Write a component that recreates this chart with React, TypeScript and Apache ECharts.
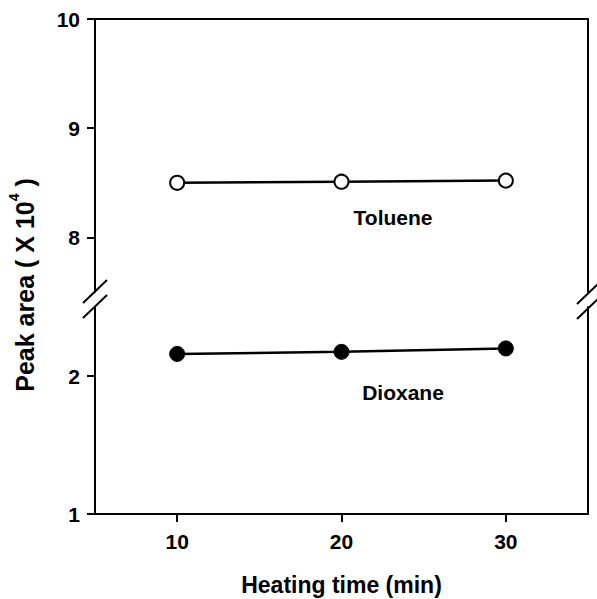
import React, { useEffect, useRef } from "react";
import * as echarts from "echarts";

const heatingTime = [10, 20, 30];
const toluene = [8.5, 8.51, 8.52];
const dioxane = [2.16, 2.175, 2.2];
const xTickValues = [10, 20, 30];
const upperTicks = [8, 9, 10];
const lowerTicks = [1, 2];

const FONT = "Liberation Sans, Arial, sans-serif";
const BLACK = "#000";

export default function App() {
  const ref = useRef<HTMLDivElement>(null);
  useEffect(() => {
    if (!ref.current) return;
    const chart = echarts.init(ref.current, undefined, { renderer: "svg" });
    const lineStyle = { color: BLACK, width: 2 };
    const label = { color: BLACK, fontFamily: FONT, fontWeight: "bold" as const, fontSize: 21 };
    const option: any = {
      animation: false,
      backgroundColor: "#fff",
      grid: [
        { left: 95, right: 9, top: 19, height: 273 },
        { left: 95, right: 9, top: 307, height: 207 },
      ],
      xAxis: [
        {
          gridIndex: 0, type: "value", min: 5, max: 35, position: "top",
          axisLine: { onZero: false, lineStyle },
          axisTick: { show: false }, axisLabel: { show: false }, splitLine: { show: false },
        },
        {
          gridIndex: 1, type: "value", min: 5, max: 35, position: "bottom",
          axisLine: { onZero: false, lineStyle },
          axisTick: { customValues: xTickValues, length: 8, lineStyle },
          axisLabel: { ...label, customValues: xTickValues, margin: 17 },
          splitLine: { show: false },
          name: "Heating time (min)", nameLocation: "middle", nameGap: 59,
          nameTextStyle: { color: BLACK, fontFamily: FONT, fontWeight: "bold", fontSize: 23 },
        },
      ],
      yAxis: [
        {
          gridIndex: 0, type: "value", min: 7.5, max: 10, position: "left",
          axisLine: { show: true, onZero: false, lineStyle },
          axisTick: { show: true, customValues: upperTicks, length: 8, lineStyle },
          axisLabel: { ...label, customValues: upperTicks, margin: 15 },
          splitLine: { show: false },
        },
        {
          gridIndex: 0, type: "value", min: 7.5, max: 10, position: "right",
          axisLine: { show: true, onZero: false, lineStyle },
          axisTick: { show: false }, axisLabel: { show: false }, splitLine: { show: false },
        },
        {
          gridIndex: 1, type: "value", min: 1, max: 2.5, position: "left",
          axisLine: { show: true, onZero: false, lineStyle },
          axisTick: { show: true, customValues: lowerTicks, length: 8, lineStyle },
          axisLabel: { ...label, customValues: lowerTicks, margin: 15 },
          splitLine: { show: false },
        },
        {
          gridIndex: 1, type: "value", min: 1, max: 2.5, position: "right",
          axisLine: { show: true, onZero: false, lineStyle },
          axisTick: { show: false }, axisLabel: { show: false }, splitLine: { show: false },
        },
      ],
      series: [
        {
          name: "Toluene", type: "line", xAxisIndex: 0, yAxisIndex: 0,
          data: heatingTime.map((t, i) => [t, toluene[i]]),
          symbol: "circle", symbolSize: 14,
          lineStyle: { color: BLACK, width: 2.5 },
          itemStyle: { color: "#fff", borderColor: BLACK, borderWidth: 2 },
          z: 3,
        },
        {
          name: "Dioxane", type: "line", xAxisIndex: 1, yAxisIndex: 2,
          data: heatingTime.map((t, i) => [t, dioxane[i]]),
          symbol: "circle", symbolSize: 15,
          lineStyle: { color: BLACK, width: 2.5 },
          itemStyle: { color: BLACK, borderColor: BLACK, borderWidth: 1 },
          z: 3,
        },
      ],
      graphic: [
        { type: "line", shape: { x1: 83, y1: 303, x2: 107, y2: 280 }, style: { stroke: BLACK, lineWidth: 2 } },
        { type: "line", shape: { x1: 83, y1: 318, x2: 107, y2: 295 }, style: { stroke: BLACK, lineWidth: 2 } },
        { type: "line", shape: { x1: 577, y1: 304, x2: 601, y2: 281 }, style: { stroke: BLACK, lineWidth: 2 } },
        { type: "line", shape: { x1: 577, y1: 319, x2: 601, y2: 296 }, style: { stroke: BLACK, lineWidth: 2 } },
        {
          type: "text", x: 393, y: 217,
          style: { text: "Toluene", fill: BLACK, font: `bold 21px ${FONT}`, align: "center", verticalAlign: "middle" },
        },
        {
          type: "text", x: 403, y: 392,
          style: { text: "Dioxane", fill: BLACK, font: `bold 21px ${FONT}`, align: "center", verticalAlign: "middle" },
        },
        {
          type: "text", x: 22, y: 285, rotation: Math.PI / 2,
          style: {
            text: "{a|Peak area ( X 10}{s|4}{a| )}",
            align: "center", verticalAlign: "middle",
            rich: {
              a: { fill: BLACK, fontFamily: FONT, fontWeight: "bold", fontSize: 25, verticalAlign: "bottom", lineHeight: 30 },
              s: { fill: BLACK, fontFamily: FONT, fontWeight: "bold", fontSize: 14, verticalAlign: "top", lineHeight: 30 },
            },
          },
        },
      ],
    };
    chart.setOption(option);
    return () => chart.dispose();
  }, []);
  return (
    <div
      ref={ref}
      style={{ position: "absolute", left: 0, top: 0, width: 597, height: 599 }}
    />
  );
}
